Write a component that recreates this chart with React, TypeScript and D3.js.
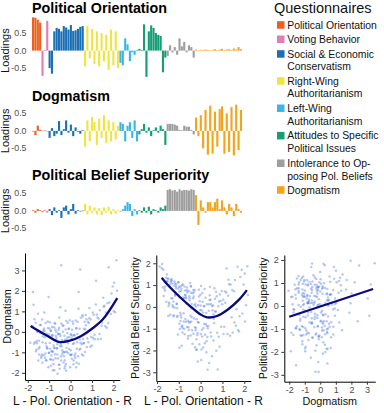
import { useEffect, useRef } from "react";
import * as d3 from "d3";

const width = 384;
const height = 413;
const font = "'Liberation Sans', Arial, Helvetica, sans-serif";

// questionnaires (legend order = item order in the bar charts)
const groupLabels = [
  ["Political Orientation"],
  ["Voting Behavior"],
  ["Social & Economic", "Conservatism"],
  ["Right-Wing", "Authoritarianism"],
  ["Left-Wing", "Authoritarianism"],
  ["Attitudes to Specific", "Political Issues"],
  ["Intolerance to Op-", "posing Pol. Beliefs"],
  ["Dogmatism"],
];
const groupColors = ["#ec5f1d", "#e27fb2", "#1b6fb4", "#f0e442", "#3cb5ea", "#139e73", "#9e9e9e", "#f5a31a"];
const groupSizes = [4, 3, 15, 15, 8, 12, 12, 20];

// factor loadings, one value per item
const poLoadings = [
  0.95, 0.94, 0.88, 0.8,
  -0.72, 0.02, 0.85,
  -0.5, -0.66, 0.55, 0.65, 0.62, 0.55, 0.7, 0.66, 0.6, 0.73, 0.56, 0.58, 0.62, 0.68, 0.7,
  -0.45, 0.7, -0.22, 0.62, -0.38, 0.55, -0.45, 0.5, -0.3, 0.45, -0.55, 0.6, -0.42, 0.55, -0.5,
  -0.35, -0.42, 0.35, 0.18, -0.3, -0.05, -0.12, 0.02,
  0.05, 0.02, 0.75, -0.75, 0.55, 0.72, 0.65, 0.5, 0.45, 0.42, -0.62, -0.2,
  -0.15, 0.15, -0.05, 0.1, -0.12, 0.35, 0.12, 0.25, -0.05, 0.15, 0.1, -0.2,
  0.03, -0.02, 0.02, 0.01, 0.03, 0.02, -0.01, 0.02, 0.04, 0.01, 0.03, 0.05, 0.02, 0.03, 0.04, 0.02, 0.06, 0.03, 0.1, 0.04,
];
const dogLoadings = [
  0.0, -0.12, 0.15, 0.03,
  0.01, 0.02, -0.02,
  -0.2, 0.08, -0.15, -0.08, 0.28, -0.12, 0.05, 0.3, -0.05, 0.18, -0.15, 0.1, -0.02, -0.08, 0.02,
  -0.45, 0.3, -0.3, 0.4, 0.25, -0.4, 0.35, -0.2, 0.45, -0.35, 0.3, -0.3, 0.25, -0.25, 0.15,
  0.25, 0.2, -0.3, 0.15, 0.25, -0.2, 0.3, -0.3,
  -0.1, 0.05, 0.2, -0.05, 0.1, -0.15, 0.02, 0.1, -0.05, 0.15, 0.05, -0.4,
  0.2, 0.2, 0.2, 0.18, 0.15, 0.03, 0.02, 0.15, 0.12, 0.12, 0.03, -0.1,
  0.38, -0.15, 0.45, -0.5, 0.6, -0.68, 0.72, -0.65, 0.55, -0.45, 0.62, 0.7, -0.65, 0.5, -0.6, 0.68, -0.7, 0.75, -0.55, 0.6,
];
const pbsLoadings = [
  0.02, -0.05, 0.05, 0.02,
  -0.04, 0.03, -0.05,
  0.05, -0.12, 0.1, -0.05, 0.02, -0.2, 0.1, 0.15, -0.1, 0.05, 0.2, -0.08, 0.02, 0.0, 0.01,
  0.2, -0.1, 0.15, -0.05, 0.1, -0.1, 0.08, -0.12, 0.1, -0.05, 0.12, -0.1, 0.05, -0.08, 0.02,
  -0.02, 0.05, 0.15, 0.25, 0.2, -0.15, 0.05, -0.1,
  0.02, -0.05, 0.1, -0.05, 0.12, -0.1, 0.05, 0.02, -0.05, 0.1, 0.05, 0.15,
  0.6, 0.62, 0.58, 0.6, 0.55, 0.62, 0.58, 0.6, 0.6, 0.58, 0.62, 0.6,
  0.45, -0.4, 0.3, 0.1, -0.05, 0.25, 0.25, 0.1, 0.25, 0.35, 0.05, 0.3, 0.1, -0.1, 0.2, 0.1, -0.15, 0.2, 0.05, -0.05,
];
const loadingTicks = [0.5, 0, -0.5];

// participant scores (same participant at the same index in each list)
const poScores = [
  -1.63, -1.18, -0.84, -0.27, 0.12, -0.96, -0.53, 0.41, 1.23, -1.37,
  -0.88, -0.22, 0.57, 1.82, -1.71, -1.07, -0.64, 0.03, 0.92, -1.29,
  -0.73, -0.36, 0.28, 1.47, -1.52, -1.04, -0.08, 0.74, 1.97, -0.79,
  -1.21, -0.46, 0.18, 1.13, -1.78, -0.91, -0.33, 0.52, 1.58, -1.12,
  -0.61, -0.04, 0.83, 2.08, -1.43, -0.68, -0.17, 0.37, 1.31, -1.57,
  -1.02, -0.42, 0.14, 0.87, -1.34, -0.77, -0.12, 0.63, 1.88, -0.48,
  -1.48, -0.93, -0.28, 0.32, 1.04, -1.16, -0.57, 0.23, 1.42, -1.69,
  -0.81, -0.18, 0.48, 1.72, -1.09, -0.72, 0.02, 0.78, 2.17, -1.32,
  -0.39, 0.08, 0.67, 1.18, -1.58, -0.98, -0.52, 0.27, 1.53, -0.87,
  -1.41, -0.58, -0.06, 0.61, 1.76, -1.23, -0.31, 0.43, 0.97, -1.47,
  -0.69, 0.21, -1.88, -1.13, -0.43, 0.88, 1.62, -0.82, -0.24, 0.53,
  -1.27, -0.62, -0.02, 1.08, 2.02, -1.01, -0.47, 0.33, -1.73, -0.92,
  -0.26, 0.72, 1.28, -1.19, -0.74, 0.07, -1.54, -0.44, 0.58, 1.91,
  -1.08, -0.83, -0.13, 0.38, 1.37, -1.62, -0.56, 0.16, 0.81, -0.97,
  0.45, 1.78, 2.14, -1.76, 2.03, -0.21, 1.19, -1.03, 0.01, 1.69,
  -1.45, -1.12, -0.95, -0.71, -0.49, -0.33, -0.15, 0.05, 0.26, 0.47,
  -1.55, -1.25, -0.86, -0.62, -0.41, -0.19, 0.09, 0.35, 0.66, 1.05,
  -1.36, -1.06, -0.78, -0.55, -0.37, -0.11, 0.13, 0.42, 0.76, 1.26,
  -1.66, -1.31, -0.99, -0.75, -0.51, -0.29, -0.07, 0.19, 0.55, 0.94,
  -1.39, -1.15, -0.89, -0.66, -0.44, -0.23, 0.04, 0.29, 0.69, 1.45,
  -1.51, -1.2, -0.92, -0.7, -0.5, -0.26, -0.01, 0.24, 0.59, 1.12,
  -1.28, -1.01, -0.8, -0.58, -0.35, -0.14, 0.11, 0.39, 0.85, 1.65,
  -1.59, -1.24, -0.97, -0.76, -0.54, -0.31, -0.09, 0.17, 0.46, 0.99,
  -1.33, -1.1, -0.87, -0.63, -0.4, -0.2, 0.06, 0.31, 0.71, 1.35,
  -1.47, -1.17, -0.9, -0.67, -0.45, -0.25, 0.0, 0.26, 0.62, 1.55,
];
const dogScores = [
  0.45, -1.06, -0.17, -1.39, 0.4, -0.83, 0.7, -0.87, 0.84, -1.27,
  -0.25, -1.57, 0.75, 1.43, -0.58, 0.5, -0.8, -0.13, -0.73, -0.21,
  -1.09, 0.0, -1.51, 0.46, 0.89, -1.73, 0.15, 0.62, 2.21, -0.67,
  0.04, -1.2, -0.16, -0.36, 0.29, -1.35, 0.31, -0.61, 1.28, -0.7,
  -2.05, 0.57, -0.51, 0.96, 0.33, -0.39, -0.97, 1.13, 0.64, -0.55,
  -0.13, -0.7, -1.4, 0.67, -1.11, 0.23, -0.55, 0.15, 0.87, 1.2,
  -0.81, 0.05, -1.79, -0.11, 0.95, -0.56, -0.1, -1.06, -0.35, 0.62,
  -1.37, -0.37, 0.69, 1.4, -0.8, 0.41, -1.13, -0.31, 2.01, -1.51,
  -0.9, -0.2, -0.98, 1.34, -0.45, 0.17, -1.6, 0.19, 1.66, -0.95,
  -0.07, -1.3, -0.25, -0.55, 0.43, 0.94, -0.99, -0.37, -0.25, -1.11,
  -0.19, -1.26, -0.53, -1.4, 0.4, 1.17, 0.28, -0.97, 1.03, -1.11,
  0.09, -0.6, -1.73, 0.84, 1.01, -1.03, -0.2, 0.49, 1.32, -1.65,
  -0.39, 0.32, -0.36, -1.26, -0.79, 0.1, -0.01, 3.25, -0.35, 1.87,
  -0.2, -1.87, 0.45, 1.95, 1.05, -0.95, 0.1, -0.56, 0.49, 0.47,
  3.05, 3.15, 3.5, 1.95, 2.4, -1.9, 2.5, 1.7, -0.9, 0.2,
  -0.74, -0.09, -1.34, 0.11, -0.7, -1.49, -0.06, -1.11, 0.17, -0.53,
  0.02, -1.14, 0.24, -1.1, -0.4, -0.77, 0.5, -1.19, 0.49, -0.3,
  -1.19, 0.19, -0.78, -1.6, 0.3, -1.05, -1.58, 0.15, -0.74, 0.7,
  -0.51, -0.51, -0.23, 0.42, -1.8, -0.19, -0.84, -1.16, 0.82, 0.6,
  0.33, -1.38, -0.96, -0.29, -1.4, 0.12, -0.32, -0.82, 0.11, 0.3,
  -1.4, -0.26, 0.05, -1.29, -0.1, -1.68, -1.13, 0.56, -1.16, -0.14,
  -0.02, -1.02, -1.57, -0.1, -0.99, -0.26, -0.59, -1.56, 0.43, 0.94,
  -0.86, 0.16, -0.54, -1.88, 0.2, -1.19, 0.15, -0.17, -0.83, -0.66,
  0.6, -0.8, -0.16, -0.8, -1.1, 0.53, -1.31, -0.51, 0.82, -0.11,
  -0.43, 0.43, -1.15, 0.01, -0.6, -0.98, -0.13, -1.73, -0.54, 1.22,
];
const pbsScores = [
  0.74, 1.07, -0.87, 0.77, -1.86, 0.43, -0.71, 0.32, -1.24, 1.13,
  0.82, -0.97, 0.06, 1.37, 1.7, -0.46, 0.16, -2.44, 0.27, 0.4,
  -1.26, 0.63, -0.88, -1.18, 1.18, -1.27, 0.79, 0.49, 1.03, 0.43,
  0.97, -1.31, 0.82, 0.19, 1.77, -0.38, -1.23, -2.26, 1.23, 1.04,
  0.66, 0.26, -1.37, 0.08, 0.13, 0.44, -1.97, -0.18, 1.04, 0.24,
  0.83, -0.07, 0.04, -1.83, 0.4, -0.67, -0.71, 0.86, 1.7, 1.09,
  -0.42, -0.28, 0.07, -2.88, 0.33, 0.57, -1.34, 0.42, -0.47, 0.5,
  1.03, -0.57, -1.36, -1.06, 0.14, 0.54, 0.96, -2.87, 0.54, 1.2,
  -1.07, 0.64, -0.21, 0.66, 1.34, -0.77, 0.49, -1.58, 0.72, -1.78,
  1.03, -0.64, -1.71, -0.54, -1.13, -0.43, 0.67, 0.92, 0.73, 1.28,
  0.54, -1.28, 1.85, 0.94, -0.67, 0.57, -0.87, -0.97, 0.13, 0.04,
  0.0, 0.76, -0.14, -0.91, 1.53, 0.53, -0.41, -0.98, 0.9, 0.92,
  -0.93, -2.01, 1.24, -0.03, 0.94, -1.36, 1.48, 0.93, -0.34, -0.3,
  -0.06, -1.17, -2.51, 0.12, 1.03, 0.94, -0.94, -0.78, 0.03, -1.87,
  0.33, -0.43, 1.86, 1.97, -0.67, -1.97, 1.76, 1.13, -1.24, 1.84,
  0.2, 0.85, -1.02, 0.75, -0.72, 0.77, -1.29, -0.15, -2.08, 0.13,
  1.16, 0.23, 0.99, -0.92, 0.13, -1.48, 0.24, -0.88, 0.37, -1.24,
  1.22, -0.41, -0.29, 0.73, -1.69, 0.09, -0.97, 0.53, -1.19, 0.51,
  0.83, 1.07, 0.92, -1.02, 0.4, -0.53, 0.48, -1.67, -0.15, -0.91,
  -0.36, 0.58, -0.49, 0.41, 0.65, -1.07, -1.95, 0.12, -0.21, 0.78,
  1.3, 1.17, -0.65, -0.56, 0.29, -0.15, 0.56, -0.78, -1.54, 0.71,
  0.07, 1.13, 0.33, -1.45, 0.4, -1.2, -0.26, -2.58, 0.25, -0.11,
  1.12, -0.38, 0.7, 0.39, -1.06, 0.48, -0.72, 0.03, -1.17, 0.12,
  1.28, 0.13, -0.9, 0.89, -0.47, 0.02, -1.05, -1.38, 0.69, -1.32,
  0.04, 0.51, 0.72, -0.68, 0.96, -1.85, 0.06, -0.28, -0.74, -0.72,
];

// fitted curves
const fitDogX = [-1.87, -1.5, -1, -0.5, 0, 0.5, 1, 1.5, 2.18];
const fitDogY = [0.29, 0.05, -0.25, -0.5, -0.42, -0.2, 0.15, 0.6, 1.65];
const fitPbsX = [-1.78, -1.5, -1, -0.5, 0, 0.3, 0.75, 1.25, 1.75, 2.12];
const fitPbsY = [1.34, 1.0, 0.5, 0.05, -0.35, -0.48, -0.42, -0.12, 0.32, 0.77];
const fitLinX = [-2.0, 3.4];
const fitLinY = [-0.47, 0.74];

const itemGroup = groupSizes.flatMap((n, g) => Array(n).fill(g));

const barPanels = [
  { title: "Political Orientation", values: poLoadings, titleY: 13, zero: 50.6 },
  { title: "Dogmatism", values: dogLoadings, titleY: 100.5, zero: 130.9 },
  { title: "Political Belief Superiority", values: pbsLoadings, titleY: 179.5, zero: 210.9 },
];

const barX = d3
  .scaleBand<number>()
  .domain(itemGroup.map((_, i) => i))
  .range([32, 242])
  .paddingInner(0.1);

const BarPanel = ({ title, values, titleY, zero }) => {
  const y = d3.scaleLinear().domain([-0.5, 0.5]).range([zero + 17.5, zero - 17.5]);
  return (
    <g>
      <text x={32} y={titleY} fontSize={14.3} fontWeight="bold" fill="#000">
        {title}
      </text>
      <text
        transform={`translate(8.5,${zero}) rotate(-90)`}
        textAnchor="middle"
        fontSize={11}
        fill="#111"
      >
        Loadings
      </text>
      {loadingTicks.map((t) => (
        <text key={t} x={26.5} y={y(t)} dy="0.35em" textAnchor="end" fontSize={8.8} fill="#4d4d4d">
          {d3.format(".1f")(t).replace("−", "-")}
        </text>
      ))}
      {values.map((v, i) => (
        <rect
          key={i}
          x={barX(i)}
          width={barX.bandwidth()}
          y={Math.min(y(v), y(0))}
          height={Math.max(0.6, Math.abs(y(v) - y(0)))}
          fill={groupColors[itemGroup[i]]}
        />
      ))}
    </g>
  );
};

const Scatter = ({ xs, ys, xDomain, xRange, yDomain, yRange, xTicks, yTicks, fitX, fitY, xLabel, yLabel, xLabelSize, yLabelX }) => {
  const xRef = useRef(null);
  const yRef = useRef(null);
  const x = d3.scaleLinear().domain(xDomain).range(xRange);
  const y = d3.scaleLinear().domain(yDomain).range(yRange);
  const fit = d3
    .line<number>()
    .x((d) => x(d))
    .y((_, i) => y(fitY[i]))
    .curve(d3.curveCatmullRom);

  useEffect(() => {
    const style = (g) => {
      g.attr("font-family", font);
      g.select(".domain").attr("stroke", "#000").attr("stroke-width", 1);
      g.selectAll(".tick line").attr("stroke", "#333");
      g.selectAll(".tick text").attr("fill", "#4d4d4d").attr("font-size", 9);
    };
    d3.select(xRef.current)
      .call(
        d3.axisBottom(x).tickValues(xTicks).tickSize(3).tickPadding(2).tickSizeOuter(0).tickFormat((d) => String(d))
      )
      .call(style);
    d3.select(yRef.current)
      .call(
        d3.axisLeft(y).tickValues(yTicks).tickSize(3).tickPadding(2.5).tickSizeOuter(0).tickFormat((d) => String(d))
      )
      .call(style);
  }, [x, y]);

  return (
    <g>
      {xs.map((v, i) => (
        <circle key={i} cx={x(v)} cy={y(ys[i])} r={1.25} fill="#4b76de" fillOpacity={0.4} />
      ))}
      <path d={fit(fitX)} fill="none" stroke="#0a0a78" strokeWidth={2.3} />
      <g ref={xRef} transform={`translate(0,${yRange[0]})`} />
      <g ref={yRef} transform={`translate(${xRange[0]},0)`} />
      <text x={(xRange[0] + xRange[1]) / 2} y={404.5} textAnchor="middle" fontSize={xLabelSize} fill="#111">
        {xLabel}
      </text>
      <text
        transform={`translate(${yLabelX},${(yRange[0] + yRange[1]) / 2}) rotate(-90)`}
        textAnchor="middle"
        fontSize={10.8}
        fill="#111"
      >
        {yLabel}
      </text>
    </g>
  );
};

const Legend = () => {
  const rowY = [25, 39.3, 54, 81, 108.3, 135.7, 163.3, 190];
  return (
    <g>
      <text x={274} y={12.5} fontSize={14.5} fill="#111">
        Questionnaires
      </text>
      {groupLabels.map((lines, g) => (
        <g key={g}>
          <rect x={277} y={rowY[g] - 3.8} width={7.5} height={7.5} fill={groupColors[g]} />
          {lines.map((l, k) => (
            <text key={k} x={287.3} y={rowY[g] + 3.7 + k * 12.7} fontSize={10.4} fill="#111">
              {l}
            </text>
          ))}
        </g>
      ))}
    </g>
  );
};

const App = () => {
  return (
    <svg
      width={width}
      height={height}
      viewBox={`0 0 ${width} ${height}`}
      style={{ position: "absolute", left: 0, top: 0, background: "#fff" }}
      fontFamily={font}
    >
      {barPanels.map((p) => (
        <BarPanel key={p.title} {...p} />
      ))}
      <Legend />
      <Scatter
        xs={poScores}
        ys={dogScores}
        xDomain={[-2.13, 2.3]}
        xRange={[25, 119.8]}
        yDomain={[-2.35, 3.85]}
        yRange={[380, 253]}
        xTicks={[-2, -1, 0, 1, 2]}
        yTicks={[-2, -1, 0, 1, 2, 3]}
        fitX={fitDogX}
        fitY={fitDogY}
        xLabel="L - Pol. Orientation - R"
        xLabelSize={12}
        yLabel="Dogmatism"
        yLabelX={10.5}
      />
      <Scatter
        xs={poScores}
        ys={pbsScores}
        xDomain={[-2.03, 2.3]}
        xRange={[156.3, 250.8]}
        yDomain={[-3.4, 2.38]}
        yRange={[381, 255]}
        xTicks={[-2, -1, 0, 1, 2]}
        yTicks={[-3, -2, -1, 0, 1, 2]}
        fitX={fitPbsX}
        fitY={fitPbsY}
        xLabel="L - Pol. Orientation - R"
        xLabelSize={12}
        yLabel="Political Belief Superiority"
        yLabelX={139}
      />
      <Scatter
        xs={dogScores}
        ys={pbsScores}
        xDomain={[-2.32, 3.54]}
        xRange={[284.3, 375.3]}
        yDomain={[-3.3, 2.22]}
        yRange={[381.7, 255]}
        xTicks={[-2, -1, 0, 1, 2, 3]}
        yTicks={[-3, -2, -1, 0, 1, 2]}
        fitX={fitLinX}
        fitY={fitLinY}
        xLabel="Dogmatism"
        xLabelSize={10.8}
        yLabel="Political Belief Superiority"
        yLabelX={267}
      />
    </svg>
  );
};

export default App;
